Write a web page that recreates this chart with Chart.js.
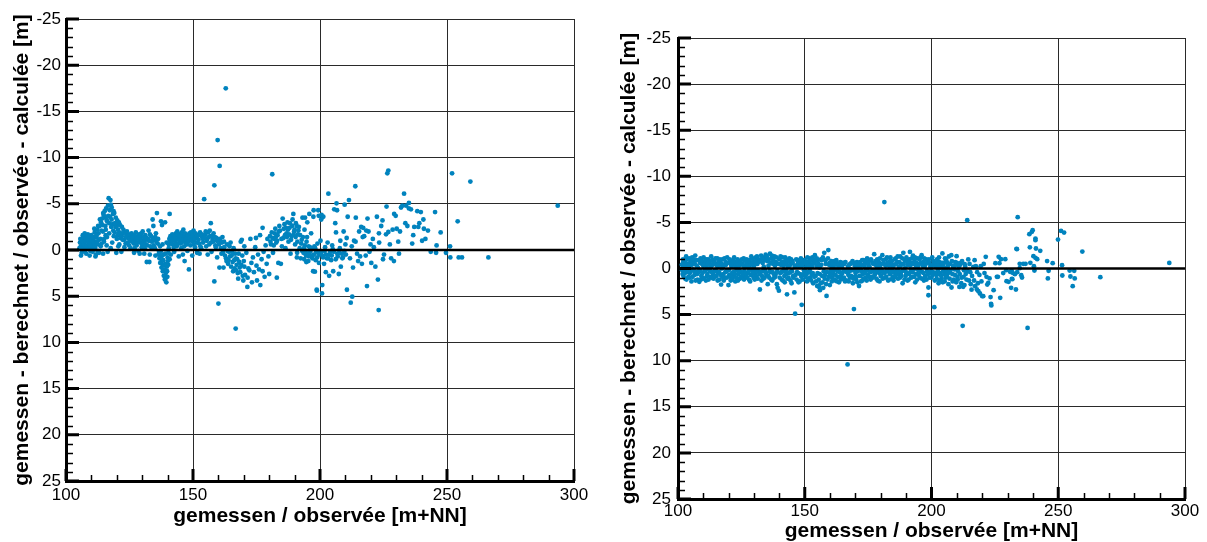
<!DOCTYPE html>
<html>
<head>
<meta charset="utf-8">
<script src="https://cdn.jsdelivr.net/npm/chart.js@4.4.1/dist/chart.umd.min.js"></script>
<style>
  html, body { margin: 0; padding: 0; background: #fff; }
  #wrap { position: relative; width: 1207px; height: 542px; overflow: hidden; }
  #leftChart { position: absolute; left: 0; top: 0; }
  #rightChart { position: absolute; left: 600px; top: 0; }
</style>
</head>
<body>
<div id="wrap">
  <canvas id="leftChart" width="600" height="542"></canvas>
  <canvas id="rightChart" width="607" height="542"></canvas>
</div>
<script>
// axis texts and ticks
const yTitle = 'gemessen - berechnet / observée - calculée [m]';
const xTitle = 'gemessen / observée [m+NN]';
const xTicks = [100, 150, 200, 250, 300];
const yTicks = [-25, -20, -15, -10, -5, 0, 5, 10, 15, 20, 25];
const xMinorStep = 10;
const yMinorStep = 1;

const leftObs = [
  [105.5,-0.8],[105.8,-0.4],[106.0,-1.1],[106.2,0.3],[106.5,-0.6],[106.8,-1.3],[107.0,-0.2],[107.2,-0.9],[107.5,-1.5],[107.8,-0.5],
  [108.0,0.4],[108.2,-1.0],[108.5,-0.3],[108.8,-1.4],[109.0,-0.7],[109.3,0.6],[109.5,-1.1],[109.8,-0.2],[110.0,-1.6],[110.3,-0.8],
  [110.5,0.2],[110.8,-1.3],[111.0,-0.5],[111.3,-1.9],[111.5,-0.9],[111.8,0.5],[112.0,-1.4],[112.3,-2.2],[112.5,-0.6],[112.8,-1.8],
  [113.0,0.3],[113.2,-2.6],[113.5,-1.2],[113.8,-3.0],[114.0,-0.7],[105.3,-0.2],[106.6,-1.6],[107.4,0.1],[108.6,-1.7],[109.6,0.1],
  [110.7,-0.4],[111.6,0.7],[112.4,0.1],[105.9,0.6],[107.9,-1.2],
  [105.65,-1.2],[106.05,-0.1],[106.35,-0.9],[106.95,-0.6],[107.35,-1.8],[107.65,-0.9],[108.15,-0.4],[108.45,-1.1],[108.95,-0.2],[109.15,-1.5],
  [109.45,-0.5],[109.95,-1.0],[110.15,0.0],[110.45,-1.4],[110.95,-0.9],[111.15,-2.3],[111.45,-0.3],[111.95,-1.6],[112.15,-0.9],[112.65,-2.6],
  [112.95,-1.1],[113.35,-3.3],[113.65,-0.4],[113.95,-2.1],[114.35,-2.7],[114.65,-4.0],[114.95,-0.9],[115.35,-3.6],[115.65,-2.2],[115.95,-3.3],
  [116.15,-1.4],[116.65,-3.7],[116.95,-2.9],[117.35,-3.6],[117.65,-4.9],[117.95,-3.3],[118.35,-2.8],[118.75,-4.2],[119.15,-1.9],[119.45,-2.5],
  [119.95,-2.6],[120.35,-1.6],[120.95,-1.9],[121.45,-1.3],[121.95,-1.5],[122.45,-1.8],[122.95,-1.1],[123.45,-0.7],[123.95,-1.6],[124.45,-1.3],
  [114.2,-3.4],[114.5,-2.0],[114.8,-3.8],[115.0,-1.2],[115.2,-4.2],[115.5,-2.6],[115.8,-4.5],[116.0,-0.5],[116.2,-3.1],[116.5,-4.8],
  [116.8,-5.6],[117.0,-1.8],[117.2,-4.3],[117.5,-5.4],[117.8,-2.5],[118.0,-4.6],[118.2,-0.8],[118.5,-3.9],[118.8,-1.5],[119.0,-4.0],
  [119.3,-2.9],[119.6,-3.5],[120.0,-1.2],[120.2,-3.2],[120.5,-2.2],[120.8,-3.0],[121.0,-0.6],[121.3,-2.7],[121.6,-1.8],[122.0,-2.5],
  [122.3,-1.1],[122.6,-2.2],[123.0,-0.3],[123.3,-1.9],[123.6,-1.4],[124.0,-2.0],[124.3,-0.8],[124.7,-1.6],[125.0,-1.2],[125.4,-0.2],
  [114.6,0.4],[116.4,0.2],[117.6,-0.2],[119.8,0.3],[115.6,-1.6],[118.6,-2.1],[121.8,0.2],[120.6,-0.4],
  [125.8,-1.8],[126.2,-0.9],[126.5,-1.5],[126.8,0.3],[127.2,-1.1],[127.5,-1.9],[127.8,-0.5],[128.2,-1.3],[128.5,0.1],[128.8,-1.7],
  [129.2,-0.8],[129.5,-1.4],[129.8,-0.3],[130.2,-2.0],[130.5,-1.0],[130.8,0.4],[131.2,-1.6],[131.5,-0.6],[131.8,1.3],[132.2,-1.2],
  [132.5,-2.1],[132.8,1.3],[133.2,-0.4],[133.5,-1.5],[133.8,-0.9],[134.1,-3.3],[134.4,-2.6],[134.7,-1.1],[135.0,-0.2],[135.4,-1.8],
  [135.8,-4.0],[136.1,-0.7],[136.4,0.5],[127.0,-0.2],[129.0,0.4],[131.0,-0.2],[133.0,0.5],[135.2,0.6],[137.4,-3.1],[137.8,-2.7],
  [139.0,-3.0],[140.8,-3.9],
  [124.85,-0.5],[125.25,-1.7],[125.65,-1.0],[126.05,-1.4],[126.65,-0.7],[127.05,-1.6],[127.65,-1.2],[128.05,-0.8],[128.65,-1.5],[129.05,-1.1],
  [129.65,-1.8],[130.05,-0.6],[130.65,-1.4],[131.05,-1.0],[131.65,-1.3],[132.05,-0.5],[132.65,-1.0],[133.05,-1.7],[133.65,-0.3],[134.05,-1.3],
  [134.55,-0.5],[135.15,-1.4],[135.55,-0.9],[136.25,-1.2],[136.65,0.2],[137.05,-0.4],[137.45,0.7],[137.75,1.2],[138.05,1.6],[138.45,0.5],
  [138.8,2.1],[139.2,1.5],[139.4,3.0],[139.8,2.3],[140.0,0.8],[140.25,1.6],[140.45,-0.2],[140.7,-1.2],[141.1,-1.5],[141.45,-0.9],
  [136.8,0.9],[137.1,1.4],[137.3,0.2],[137.6,1.9],[137.9,0.6],[138.1,2.3],[138.3,1.1],[138.5,2.8],[138.7,1.6],[138.9,3.2],
  [139.1,0.4],[139.3,2.5],[139.5,3.5],[139.7,1.8],[139.9,2.9],[140.1,1.2],[140.3,0.3],[140.5,-0.6],[140.8,1.0],[141.0,-1.0],
  [138.0,-0.6],[139.6,-0.8],[141.3,0.5],
  [141.6,-1.3],[142.0,-0.6],[142.3,-1.6],[142.6,0.2],[143.0,-1.1],[143.3,-1.8],[143.6,-0.4],[144.0,-1.4],[144.4,0.7],[144.7,-0.9],
  [145.0,-1.7],[145.4,-0.2],[145.7,-1.3],[146.0,0.5],[146.4,-1.6],[146.7,1.2],[147.0,-0.8],[147.4,-1.5],[147.8,0.1],[148.1,-1.2],
  [148.4,2.1],[148.6,-1.8],[149.0,-0.5],[149.3,-1.4],[149.7,0.6],[150.0,-1.0],[150.4,-1.7],[150.8,-0.3],[151.2,-1.3],[151.6,0.3],
  [143.8,-2.0],[146.2,-2.2],[150.2,-2.1],
  [141.85,-1.7],[142.15,-1.1],[142.45,-0.3],[142.85,-1.4],[143.15,-0.8],[143.45,-1.2],[143.9,-0.6],[144.2,-1.7],[144.55,-1.1],[144.85,-1.5],
  [145.2,-0.7],[145.55,-1.9],[145.85,-0.9],[146.25,-1.1],[146.55,-0.4],[146.85,-1.8],[147.2,-1.2],[147.6,-0.6],[147.95,-1.6],[148.25,-0.9],
  [148.8,-1.3],[149.15,-1.9],[149.5,-1.0],[149.85,-1.5],[150.2,-0.6],[150.6,-1.2],[151.0,-1.8],[151.4,-0.8],[151.8,-1.5],[152.2,-1.1],
  [152.0,-1.6],[152.4,-0.7],[152.8,-1.9],[153.2,-0.2],[153.6,-1.4],[154.0,-0.8],[154.4,-5.5],[154.8,-1.7],[155.2,-0.4],[155.6,-1.2],
  [156.0,-1.9],[156.4,-0.6],[156.8,-1.5],[157.0,-2.9],[157.3,0.2],[157.7,-1.1],[158.1,-1.8],[158.4,-7.0],[158.4,3.4],[158.8,-0.5],
  [159.2,-1.3],[159.7,-11.9],[160.0,5.8],[160.4,1.9],[160.5,-9.1],[160.8,-0.9],[161.2,0.4],[161.6,-1.4],[162.0,1.9],[162.3,-0.3],
  [162.9,-17.5],[163.0,0.9],[163.4,-0.6],[163.8,1.5],[164.2,0.2],[164.8,-0.8],[155.8,0.5],[159.5,0.8],[152.6,0.4],[166.8,8.5],
  [152.9,-0.4],[153.4,-1.7],[153.9,-1.2],[154.6,-1.4],[155.0,-2.0],[155.4,-1.0],[156.2,-1.4],[156.6,-2.1],[157.1,-0.8],[157.5,-1.5],
  [157.9,-0.9],[158.6,-1.4],[159.0,-0.3],[159.4,-1.0],[160.2,-0.6],[160.6,-1.2],[161.0,-0.2],[161.4,-0.8],[161.8,0.3],[162.2,-0.9],
  [162.6,0.6],[163.2,1.2],[163.6,0.1],[164.0,1.1],[164.4,-0.4],[164.6,0.7],[165.0,1.8],[165.4,0.2],[165.8,2.3],[166.2,1.1],
  [166.6,0.4],[167.0,2.2],[167.4,1.0],[167.8,3.1],[168.2,1.3],[168.6,2.4],[169.0,1.6],[169.4,0.6],[169.8,3.3],[170.2,1.8],
  [165.2,0.6],[165.6,1.3],[166.0,-0.2],[166.4,2.0],[166.8,0.9],[167.2,1.6],[167.6,2.5],[168.0,0.4],[168.4,1.9],[168.8,-0.9],
  [169.2,-1.1],[169.6,2.8],[170.0,1.2],[170.5,2.7],[171.0,0.3],[171.4,4.0],[171.5,3.0],[171.8,2.0],[172.2,2.2],[172.6,-1.2],
  [173.0,1.4],[173.2,3.5],[173.6,0.8],[174.0,2.4],[174.5,-0.3],[175.0,1.7],[175.2,3.3],[175.6,0.5],[176.0,2.1],[176.4,-1.6],
  [176.5,3.8],[177.0,1.0],[177.4,2.3],[177.4,-2.4],[177.8,0.2],[178.2,2.9],[178.6,-0.5],[179.0,1.5],[179.3,-1.2],[179.7,0.7],
  [170.2,-0.4],[174.8,-1.3],
  [180.0,2.6],[180.3,-1.5],[180.7,-0.6],[181.0,-1.9],[181.2,-8.2],[181.5,0.3],[182.0,-1.2],[182.4,-2.3],[182.8,-0.8],[183.0,3.0],
  [183.3,-1.6],[183.6,1.4],[184.0,-2.6],[184.3,-2.1],[184.6,1.5],[185.0,-0.4],[185.3,-3.4],[185.6,-1.3],[186.0,-2.8],[186.4,-0.2],
  [186.8,-1.8],[187.2,-3.0],[187.6,-0.9],[188.0,-2.4],[188.4,0.4],[188.8,-1.5],[189.2,-3.3],[189.5,-3.9],[189.8,-2.0],[190.2,-0.6],
  [190.5,-2.9],[190.9,0.8],[191.3,-1.7],[191.7,-2.5],[192.0,-0.2],[192.4,0.9],[192.8,-1.1],[193.1,-3.5],[193.5,0.3],[193.9,-2.2],
  [194.1,-3.5],[194.5,0.6],[194.9,-1.4],[195.0,-3.0],[195.4,1.2],[195.8,-3.9],[196.2,0.2],[196.5,-1.8],[196.9,0.7],[197.3,2.3],
  [197.4,-3.6],[197.5,-4.3],[197.8,-0.4],[198.0,2.35],[198.3,1.1],[198.7,4.3],[198.8,4.4],[199.0,-0.7],[199.3,-4.3],[199.5,-3.7],
  [199.8,0.5],[193.0,0.1],[194.0,-0.5],[195.2,0.4],[196.0,-0.3],[197.0,0.9],[198.5,0.2],[199.6,1.4],[191.0,0.3],[195.6,0.7],
  [194.6,1.3],[193.8,1.0],
  [180.5,-0.9],[181.3,-1.3],[181.8,-0.5],[182.2,-1.8],[182.6,-1.4],[183.1,-1.0],[183.8,-2.0],[184.8,-1.2],[185.8,-2.3],[186.2,-1.6],
  [186.6,-2.4],[187.0,-1.4],[187.4,-2.2],[187.8,-1.7],[188.2,-2.9],[188.6,-1.1],[189.0,-2.6],[189.6,-1.7],[190.0,-2.2],[190.4,-1.4],
  [190.8,-2.6],[191.1,-0.9],[191.5,-2.1],[192.2,-1.6],[192.6,-0.7],[193.3,-1.4],[193.7,-0.2],[194.3,0.2],[194.7,-0.9],[195.5,-0.4],
  [196.3,0.6],[196.8,-0.2],[197.6,0.5],[198.1,-0.2],[198.9,0.8],[199.2,0.3],
  [200.2,-1.0],[200.5,-3.3],[200.6,-3.8],[200.8,4.7],[200.9,3.8],[201.0,0.6],[201.3,-3.6],[201.6,1.5],[202.0,-0.3],[202.3,2.4],
  [202.7,0.9],[203.0,-0.8],[203.3,-6.1],[203.6,2.8],[204.0,0.2],[204.4,1.1],[204.8,-0.5],[205.2,2.3],[205.6,-4.4],[206.0,-2.9],
  [206.3,-1.9],[206.5,-5.05],[206.7,-4.3],[207.0,0.7],[207.4,2.6],[207.8,-0.2],[208.2,1.8],[208.6,0.4],[209.3,-2.0],[209.7,-4.9],
  [210.0,-0.6],[210.5,-1.3],[210.6,4.3],[210.9,-3.6],[201.8,0.1],[203.8,0.5],[205.0,-0.1],[206.8,0.4],[208.0,-1.0],[209.0,0.8],
  [200.4,0.3],[201.2,0.8],[202.4,0.5],[203.2,0.9],[204.6,0.6],[205.4,0.2],[206.2,1.0],[207.6,0.3],[208.8,0.9],[209.6,0.1],[210.2,0.5],
  [211.4,-5.4],[211.8,0.9],[212.1,5.7],[212.5,-0.4],[212.7,5.05],[213.0,1.9],[213.4,-1.0],[213.9,-6.9],[214.0,-0.9],[214.1,-3.5],
  [214.6,0.4],[215.0,1.2],[215.4,-2.0],[216.2,-2.5],[216.5,1.5],[216.8,-1.4],[217.0,-2.4],[217.4,-1.5],[218.0,0.6],[218.2,-2.1],
  [218.5,3.9],[218.7,-3.4],[219.1,-2.0],[219.5,0.2],[220.2,1.4],[220.8,-1.2],[221.2,-0.3],[221.8,1.8],[222.4,-3.6],[222.8,3.2],
  [223.1,6.5],[223.2,-1.8],[223.3,-0.8],[224.1,-2.6],[224.6,-3.2],[225.2,0.5],[226.0,-1.7],[226.2,-4.7],[226.5,-8.3],[226.9,-8.6],
  [226.9,-1.95],[227.5,-0.6],[228.0,0.9],[228.6,-2.2],[229.1,1.2],[229.2,-3.9],[229.8,-3.7],[215.8,0.7],[219.9,-0.6],[224.8,1.0],
  [230.2,-2.3],[230.8,-0.9],[231.1,0.4],[231.5,-2.0],[231.9,-4.6],[232.4,-4.8],[233.1,-6.1],[233.6,-2.9],[233.9,-4.8],[234.4,-2.6],
  [235.0,-5.1],[235.0,-4.5],[235.8,-4.4],[236.3,-0.7],[236.7,-1.6],[237.1,-2.5],[238.3,-4.2],[238.7,-2.5],[239.1,-2.9],[239.7,-4.1],
  [240.2,-1.0],[240.7,-3.3],[240.9,-2.3],[241.5,-1.2],[242.5,-2.1],[243.6,0.2],[245.3,-4.1],[245.7,0.3],[245.9,-0.5],[247.5,-1.9],
  [249.6,0.3],[251.2,-0.4],[251.3,0.8],[252.0,-8.3],[254.2,-3.1],[254.6,0.8],[255.9,0.8],[259.2,-7.4],[266.3,0.8],[293.6,-4.8]
];

// right panel
const rightObs = [
  [101.5,-0.4],[101.8,0.6],[102.0,-1.0],[102.3,0.2],[102.6,-0.7],[102.9,1.1],[103.2,-1.3],[103.5,0.3],[103.8,-0.2],[104.1,0.9],
  [104.4,-1.1],[104.7,0.5],[105.0,-0.6],[105.3,1.4],[105.6,-1.2],[105.9,0.1],[106.2,-0.8],[106.5,0.7],[106.8,-1.4],[107.1,0.4],
  [107.4,-0.3],[107.7,1.2],[108.0,-0.9],[108.4,1.45],[108.6,0.2],[108.9,-1.1],[109.2,0.8],[109.5,-0.5],[109.8,1.0],[110.1,-1.2],
  [110.4,0.3],[110.7,-0.7],[111.0,1.3],[111.3,-0.2],[111.6,0.6],[111.9,-1.0],[112.2,0.1],[112.5,-0.6],[112.8,0.9],[113.1,-1.3],
  [113.4,0.4],[113.7,-0.4],[114.0,1.1],[114.3,-0.9],[114.6,0.2],[114.9,-0.5],[115.2,0.8],[115.5,-1.1],[115.8,0.5],[116.1,-0.3],
  [116.4,1.2],[116.7,-0.8],[117.0,1.74],[117.3,0.0],[117.6,-1.0],[117.9,0.6],[118.2,-0.4],[118.5,1.0],[118.8,-0.7],[119.1,0.3],
  [119.4,-1.2],[119.9,1.8],[120.2,0.7],[120.5,-0.6],[120.8,1.3],[121.1,-0.2],[121.4,0.5],[121.7,-0.9],[122.0,0.9],[122.3,-0.4],
  [122.6,1.4],[122.9,-0.7],[123.2,0.2],[123.5,-1.0],[123.8,0.6],[124.1,-0.3],[124.4,1.1],[124.7,-0.8],[125.0,0.4],[125.3,-0.5],
  [125.6,1.0],[125.9,-1.1],[126.2,0.3],[126.5,-0.2],[126.8,0.8],[127.1,-1.0],[127.4,0.5],[127.7,-0.6],[128.0,1.2],[128.3,-0.3],
  [128.6,0.7],[128.9,-1.3],[129.2,0.1],[129.5,-0.7],[129.8,1.0],[130.1,-0.4],[130.4,0.6],[130.7,-1.2],[131.0,0.9],[131.3,-0.5],
  [131.6,0.3],[131.9,-1.0],[132.3,2.28],[132.5,0.4],[132.8,-1.4],[133.1,0.8],[133.4,-0.6],[133.7,1.1],[134.0,-1.2],[134.3,0.2],
  [134.6,-1.5],[134.9,0.7],[135.2,-0.8],[135.4,1.7],[135.7,-0.3],[136.0,1.0],[136.3,-1.6],[136.6,0.4],[136.9,-1.1],[137.2,1.3],
  [137.5,-0.5],[137.8,0.6],[138.1,-1.3],[138.4,0.9],[138.7,-0.7],[139.0,1.7],[139.3,2.1],[139.8,2.4],[140.0,-1.0],[140.3,0.5],
  [140.6,-0.4],[140.9,1.2],[141.2,-1.2],[141.5,0.3],[141.8,-0.6],[142.1,1.5],[142.4,-0.9],[142.7,0.6],[143.0,2.8],[143.3,-0.2],
  [143.6,1.0],[143.9,-1.1],[144.2,0.4],[144.5,-0.5],[144.8,1.6],[145.1,-0.8],[145.4,0.8],[145.9,2.6],[146.2,4.9],[146.5,-0.3],
  [146.8,1.2],[147.1,-0.9],[147.4,0.5],[147.7,-0.4],[148.0,1.4],[148.3,-0.7],[148.8,3.94],[149.1,0.7],[149.4,-0.6],[149.7,0.2],
  [101.65,0.2],[101.95,-0.6],[102.15,0.8],[102.45,-0.3],[102.75,0.5],[103.05,-0.9],[103.35,1.2],[103.65,-0.5],[103.95,0.4],[104.25,-0.2],
  [104.55,1.0],[104.85,-0.8],[105.15,0.2],[105.45,-0.4],[105.75,0.9],[106.05,-1.0],[106.35,0.3],[106.65,-0.5],[106.95,1.3],[107.25,-0.9],
  [107.55,0.6],[107.85,-0.1],[108.15,0.4],[108.75,-0.6],[109.05,1.2],[109.35,-0.9],[109.65,0.5],[109.95,-0.3],[110.25,1.1],[110.55,-0.4],
  [110.85,0.2],[111.15,-1.0],[111.45,0.8],[111.75,-0.5],[112.05,1.2],[112.35,-0.8],[112.65,0.3],[112.95,-0.2],[113.25,1.0],[113.55,-0.9],
  [113.85,0.6],[114.15,-0.6],[114.45,0.9],[114.75,-1.1],[115.05,0.3],[115.35,-0.3],[115.65,1.3],[115.95,-0.7],[116.25,0.4],[116.55,-1.0],
  [116.85,0.7],[117.15,-0.5],[117.45,0.9],[117.75,-0.2],[118.05,1.3],[118.35,-1.1],[118.65,0.4],[118.95,-0.4],[119.25,1.0],[119.55,-0.6],
  [120.05,0.2],[120.35,-1.0],[120.65,0.9],[120.95,-0.4],[121.25,1.2],[121.55,-0.7],[121.85,0.4],[122.15,-1.2],[122.45,0.6],[122.75,-0.1],
  [123.05,1.0],[123.35,-0.5],[123.65,1.3],[123.95,-0.8],[124.25,0.3],[124.55,-0.6],[124.85,0.9],[125.15,-1.0],[125.45,0.6],[125.75,-0.3],
  [126.05,1.2],[126.35,-0.9],[126.65,0.5],[126.95,-0.6],[127.25,1.0],[127.55,-0.2],[127.85,0.3],[128.15,-0.9],[128.45,1.4],[128.75,-0.5],
  [129.05,0.7],[129.35,-1.1],[129.65,0.4],[129.95,-0.2],[130.25,1.2],[130.55,-0.8],[130.85,0.2],[131.15,-1.3],[131.45,1.1],[131.75,-0.7],
  [132.05,0.6],[132.65,-0.8],[132.95,1.3],[133.25,-1.1],[133.55,0.3],[133.85,-0.2],[134.15,1.0],[134.45,-0.9],[134.75,0.5],[135.05,-1.3],
  [135.55,0.8],[135.85,-1.0],[136.15,0.3],[136.45,-0.6],[136.75,1.2],[137.05,-1.4],[137.35,0.4],[137.65,-0.9],[137.95,1.0],[138.25,-0.3],
  [138.55,0.6],[138.85,-1.2],[139.15,0.3],[139.55,-0.5],[140.15,1.0],[140.45,-1.3],[140.75,0.4],[141.05,-0.7],[141.35,1.3],[141.65,-0.3],
  [141.95,0.8],[142.25,-1.2],[142.55,0.2],[142.85,-0.5],[143.15,1.1],[143.45,-0.8],[143.75,0.5],[144.05,-0.3],[144.35,1.3],[144.65,-1.0],
  [144.95,0.3],[145.25,-0.6],[145.55,1.0],[146.05,-0.2],[146.35,0.7],[146.65,-1.0],[146.95,0.4],[147.25,-0.5],[147.55,1.5],[147.85,-0.2],
  [148.15,0.6],[148.45,-1.1],[148.65,0.9],[148.95,-0.3],[149.25,1.2],[149.55,-0.9],[149.85,0.5],
  [150.0,-0.9],[150.3,0.9],[150.6,-0.2],[150.9,1.4],[151.2,-0.7],[151.5,0.4],[151.8,-1.1],[152.1,1.0],[152.4,-0.4],[152.7,0.6],
  [153.0,-1.2],[153.3,1.6],[153.6,-0.6],[154.0,-1.45],[154.3,0.8],[154.6,-0.3],[154.9,1.9],[155.2,-0.9],[155.5,1.2],[155.8,-0.1],
  [156.0,2.35],[156.4,-1.0],[156.7,-0.9],[157.0,1.5],[157.3,2.1],[157.7,-1.7],[158.0,0.7],[158.3,-0.5],[158.6,2.97],[159.0,1.2],
  [159.3,-2.0],[159.6,-0.4],[159.9,1.8],[160.2,0.3],[160.5,-0.8],[160.8,1.0],[161.1,-0.2],[161.4,0.6],[161.7,-0.8],[162.0,1.3],
  [162.3,0.1],[162.6,-0.6],[162.9,0.9],[163.2,-0.3],[163.5,1.5],[163.8,0.4],[164.1,-0.7],[164.4,0.8],[164.7,-0.1],[165.0,1.1],
  [165.3,0.3],[165.6,-0.5],[165.9,1.4],[166.2,0.2],[166.9,10.4],[167.2,0.7],[167.5,-0.4],[167.8,1.0],[168.1,0.1],[168.4,-0.6],
  [168.7,0.9],[169.0,1.6],[169.4,4.4],[169.7,-0.3],[170.0,0.5],[170.3,1.2],[170.6,-0.7],[170.9,0.3],[171.4,1.9],[171.7,-0.2],
  [172.0,0.8],[172.5,-0.36],[172.8,1.3],[173.1,-0.9],[173.4,0.4],[173.7,-0.5],[174.0,1.0],[174.3,0.1],[174.6,-1.1],[174.9,0.7],
  [175.2,-0.3],[175.7,-0.9],[176.0,1.2],[176.4,0.9],[176.7,-0.6],[177.0,0.2],[177.4,-1.55],[177.7,0.6],[178.0,-0.4],[178.3,1.1],
  [178.6,-1.0],[178.9,0.3],[179.2,-0.7],[179.5,1.4],[179.8,-0.1],
  [150.15,0.3],[150.45,-0.6],[150.75,0.6],[151.05,-1.2],[151.35,1.1],[151.65,-0.3],[151.95,0.2],[152.25,-0.8],[152.55,1.3],[152.85,-0.2],
  [153.15,0.5],[153.45,-1.0],[153.75,0.9],[154.15,-0.8],[154.45,1.4],[154.75,-1.1],[155.05,0.5],[155.35,-0.5],[155.65,2.0],[155.95,0.6],
  [156.25,1.6],[156.55,-0.4],[156.85,0.8],[157.15,-1.2],[157.5,0.3],[157.85,1.1],[158.15,-0.9],[158.45,1.7],[158.8,0.4],[159.15,-1.1],
  [159.45,0.9],[159.75,-0.6],[160.05,0.7],[160.35,-0.3],[160.65,1.4],[160.95,-0.5],[161.25,0.3],[161.55,1.2],[161.85,-0.4],[162.15,0.7],
  [162.45,-0.9],[162.75,1.4],[163.05,0.3],[163.35,-0.5],[163.65,0.9],[163.95,-0.1],[164.25,1.2],[164.55,-0.3],[164.85,0.5],[165.15,-0.6],
  [165.45,1.0],[165.75,0.2],[166.05,-0.7],[166.35,1.3],[166.65,0.4],[167.05,-0.2],[167.35,1.4],[167.65,0.3],[167.95,-0.5],[168.25,0.8],
  [168.55,0.2],[168.85,-0.8],[169.15,1.1],[169.55,0.2],[169.85,-0.6],[170.15,0.9],[170.45,-0.2],[170.75,1.5],[171.05,0.1],[171.25,-0.5],
  [171.55,0.8],[171.85,-0.7],[172.15,1.4],[172.35,0.3],[172.65,-0.9],[172.95,0.6],[173.25,1.1],[173.55,-0.2],[173.85,0.5],[174.15,-0.8],
  [174.45,1.3],[174.75,0.2],[175.05,-0.6],[175.35,0.9],[175.55,-0.2],[175.85,0.4],[176.15,-1.0],[176.55,0.3],[176.85,1.0],[177.15,-0.5],
  [177.55,0.7],[177.85,-0.8],[178.15,0.3],[178.45,-0.2],[178.75,1.3],[179.05,-0.4],[179.35,0.5],[179.65,-1.1],[179.95,0.8],
  [180.2,0.8],[180.6,-1.45],[180.9,0.4],[181.2,-0.5],[181.4,-7.2],
  [181.7,1.0],[182.0,-1.0],[182.3,0.2],[182.6,-0.6],[182.9,1.3],[183.2,-0.3],[183.5,0.6],[183.8,-1.2],[184.1,0.1],[184.4,-0.8],
  [184.7,0.9],[185.0,1.3],[185.3,-0.4],[185.6,0.5],[185.9,-1.1],[186.2,0.3],[186.5,-0.7],[186.8,1.1],[187.1,-0.2],[187.4,0.7],
  [187.7,-1.3],[188.0,0.4],[188.3,-0.5],[188.6,1.6],[188.9,-1.7],[189.2,0.2],[189.5,-0.9],[189.8,0.8],[190.1,-1.2],[190.4,0.5],
  [190.7,-0.4],[191.0,1.2],[191.3,-1.0],[191.5,-1.8],[191.8,0.3],[192.1,-0.6],[192.4,0.9],[192.7,-1.4],[193.0,0.1],[193.3,-0.8],
  [193.6,1.5],[193.9,-0.3],[194.2,0.6],[194.5,-1.1],[194.8,0.2],[195.1,-0.5],[195.4,1.0],[195.7,-1.2],[196.1,-1.45],[196.4,0.4],
  [196.7,-0.7],[197.0,1.3],[197.3,-0.2],[197.6,0.8],[197.9,-1.0],[198.2,0.3],[198.8,2.06],[198.8,2.9],[199.1,-0.6],[199.4,0.5],
  [199.7,-0.3],
  [180.05,-0.5],[180.35,0.2],[180.75,1.1],[181.05,-0.9],[181.55,0.5],[181.85,-0.3],[182.15,0.9],[182.45,-1.2],[182.75,0.3],[183.05,-0.6],
  [183.35,1.2],[183.65,-0.8],[183.95,0.5],[184.25,-0.4],[184.55,1.1],[184.85,-0.1],[185.15,0.4],[185.45,-1.0],[185.75,0.9],[186.05,-0.5],
  [186.35,0.6],[186.65,-1.3],[186.95,0.3],[187.25,-0.7],[187.55,1.0],[187.85,-0.3],[188.15,0.8],[188.45,-1.1],[188.75,0.2],[189.05,-0.5],
  [189.35,1.2],[189.65,-0.1],[189.95,0.4],[190.25,-0.8],[190.55,1.3],[190.85,-0.6],[191.15,0.6],[191.65,-0.3],[191.95,1.0],[192.25,-1.1],
  [192.55,0.4],[192.85,-0.5],[193.15,0.9],[193.45,-1.2],[193.75,0.6],[194.05,-0.6],[194.35,1.2],[194.65,-0.2],[194.95,0.7],[195.25,-1.0],
  [195.55,0.3],[195.85,-0.6],[196.25,1.1],[196.55,-0.3],[196.85,0.5],[197.15,-1.1],[197.45,0.9],[197.75,-0.5],[198.05,1.2],[198.35,-0.8],
  [198.6,0.6],[199.0,-1.0],[199.25,1.0],[199.55,-0.2],[199.85,0.3],
  [200.0,1.0],[200.3,-1.2],[200.6,0.4],[200.9,-0.5],[201.1,4.2],[201.3,1.3],[201.6,-0.2],[201.9,0.7],[202.2,-1.0],[202.5,0.2],
  [202.8,1.6],[203.1,-0.7],[203.4,0.5],[203.7,-0.3],[204.0,1.1],[204.3,-1.63],[204.6,0.3],[204.9,-0.6],[205.2,1.4],[205.5,0.0],
  [205.8,-0.9],[206.1,0.8],[206.4,-0.2],[206.7,1.7],[207.0,0.4],[207.3,-0.5],[207.8,-1.45],[207.9,2.06],[208.2,0.6],[208.5,-0.3],
  [208.8,1.2],[209.1,0.1],[209.4,-0.7],[209.9,-1.34],[210.2,0.9],[210.5,0.3],[211.0,2.0],[211.3,-0.4],[211.6,-0.61],[211.9,1.0],
  [200.15,-0.3],[200.45,0.7],[200.75,-0.8],[201.45,0.5],[201.75,-0.6],[202.05,1.1],[202.35,-0.3],[202.65,0.6],[202.95,-1.2],[203.25,1.3],
  [203.55,-0.1],[203.85,0.8],[204.15,-0.6],[204.45,1.5],[204.75,-0.2],[205.05,0.6],[205.35,-1.1],[205.65,1.0],[205.95,0.3],[206.25,-0.6],
  [206.55,0.5],[206.85,-1.3],[207.15,1.1],[207.45,0.2],[208.05,-0.8],[208.35,1.4],[208.65,-0.1],[209.25,0.7],[209.55,-0.4],[209.75,1.5],
  [210.05,-0.6],[210.35,1.2],[210.75,-0.2],[211.15,0.6],[211.75,1.6],[212.05,-0.8],[212.65,0.9],[213.3,-0.2],[213.8,1.2],[214.3,0.3],
  [215.0,-0.5],[215.5,1.7],[216.0,0.8],[216.8,1.3],[217.0,-0.9],[218.0,0.4],[218.3,1.6],[219.7,1.4],[220.6,-0.5],[221.7,0.9],
  [212.3,6.22],[212.5,1.99],[212.8,0.2],[213.0,1.8],[213.1,-0.47],[213.5,0.6],[214.1,-5.24],[214.5,-0.98],[214.8,1.3],[215.3,0.4],
  [215.8,2.3],[216.5,-0.18],[217.2,1.92],[217.5,-0.25],[217.9,2.28],[218.5,2.46],[218.9,0.7],[219.1,2.71],[219.4,-0.25],[220.0,3.0],
  [220.4,3.0],[220.9,0.5],[221.4,-1.27],[222.0,1.74],[222.4,1.56],[222.9,1.08],[223.3,3.1],[223.5,3.83],[223.6,4.0],[224.5,2.35],
  [225.2,-0.58],[225.8,0.9],[226.2,0.9],[226.5,-1.27],[226.8,-0.58],[227.1,3.18],[227.4,-1.01],[228.3,0.5],[229.1,-1.01],[229.5,0.18],
  [229.6,1.37],[230.4,1.45],[231.0,0.36],[231.4,2.1],[231.6,0.22],[231.7,1.12],[231.9,1.16],[232.0,0.47],[232.9,0.62],[233.3,2.28],
  [233.5,-2.13],[233.7,-2.1],[233.8,0.4],[234.0,-5.57],[234.8,-0.51],[234.8,-0.04],[235.4,0.72],[235.7,0.98],[236.2,-0.51],[237.1,-0.51],
  [237.9,6.44],[238.6,-3.72],[238.8,-2.3],[239.0,-0.62],[239.6,-3.98],[239.9,-4.16],[240.2,-1.34],[240.4,-0.25],[240.6,0.22],[241.0,-3.25],
  [241.0,-3.07],[241.0,-1.16],[241.2,-2.17],[241.7,-1.01],[242.9,-1.92],[245.6,-0.8],[245.9,1.08],[246.2,0.25],[247.8,-0.58],[249.9,-3.14],
  [251.1,-4.08],[251.5,-0.36],[251.6,0.76],[252.3,-3.9],[254.5,0.22],[254.8,0.87],[255.7,1.92],[256.3,0.25],[256.5,1.08],[259.5,-1.84],
  [266.6,0.94],[293.8,-0.61]
];

const dotColor = 'rgb(0,131,190)';
const fontFamily = "'Liberation Sans', Arial, Helvetica, sans-serif";

// inward major/minor ticks and the heavy zero line, drawn on top of the dots
const innerTicks = {
  id: 'innerTicks',
  afterDatasetsDraw(chart) {
    const { ctx, chartArea: a, scales: { x, y } } = chart;
    ctx.save();
    ctx.strokeStyle = '#000';

    const y0 = y.getPixelForValue(0);
    ctx.lineWidth = 2.6;
    ctx.beginPath();
    ctx.moveTo(a.left, y0);
    ctx.lineTo(a.right, y0);
    ctx.stroke();

    // minor ticks
    ctx.lineWidth = 1.5;
    ctx.beginPath();
    for (let v = yTicks[0]; v <= yTicks[yTicks.length - 1]; v += yMinorStep) {
      if (yTicks.includes(v)) continue;
      const p = Math.round(y.getPixelForValue(v)) + 0.5;
      ctx.moveTo(a.left, p);
      ctx.lineTo(a.left + 7, p);
    }
    for (let v = xTicks[0]; v <= xTicks[xTicks.length - 1]; v += xMinorStep) {
      if (xTicks.includes(v)) continue;
      const p = Math.round(x.getPixelForValue(v)) + 0.5;
      ctx.moveTo(p, a.bottom);
      ctx.lineTo(p, a.bottom - 6);
    }
    ctx.stroke();

    // major ticks
    ctx.lineWidth = 3;
    ctx.beginPath();
    yTicks.forEach(v => {
      const p = y.getPixelForValue(v);
      ctx.moveTo(a.left, p);
      ctx.lineTo(a.left + 13, p);
    });
    xTicks.forEach(v => {
      const p = x.getPixelForValue(v);
      ctx.moveTo(p, a.bottom);
      ctx.lineTo(p, a.bottom - 12);
    });
    ctx.stroke();
    ctx.restore();
  }
};

function makeChart(id, points, geo) {
  const ctx = document.getElementById(id).getContext('2d');
  return new Chart(ctx, {
    type: 'scatter',
    data: {
      datasets: [{
        data: points.map(p => ({ x: p[0], y: p[1] })),
        backgroundColor: dotColor,
        borderWidth: 0,
        pointRadius: 2.4,
        pointHoverRadius: 2.4
      }]
    },
    options: {
      responsive: false,
      animation: false,
      events: [],
      layout: { padding: { top: geo.top, right: geo.right, bottom: 0, left: 0 } },
      plugins: { legend: { display: false }, tooltip: { enabled: false } },
      scales: {
        x: {
          type: 'linear',
          min: xTicks[0],
          max: xTicks[xTicks.length - 1],
          afterBuildTicks: s => { s.ticks = xTicks.map(v => ({ value: v })); },
          afterFit: s => { s.height = geo.xAxisH; },
          ticks: {
            autoSkip: false,
            maxRotation: 0,
            padding: geo.xPad,
            color: '#000',
            font: { family: fontFamily, size: 17 }
          },
          grid: { color: '#2a2a2a', lineWidth: 1, drawTicks: false },
          border: { display: true, color: '#000', width: 3 },
          title: {
            display: true,
            text: xTitle,
            color: '#000',
            font: { family: fontFamily, size: 21, weight: 'bold', lineHeight: 1 },
            padding: { top: 0, bottom: geo.xTitlePad }
          }
        },
        y: {
          type: 'linear',
          reverse: true,
          min: yTicks[0],
          max: yTicks[yTicks.length - 1],
          afterBuildTicks: s => { s.ticks = yTicks.map(v => ({ value: v })); },
          afterFit: s => { s.width = geo.yAxisW; },
          ticks: {
            autoSkip: false,
            padding: geo.yPad,
            color: '#000',
            font: { family: fontFamily, size: 17 }
          },
          grid: { color: '#2a2a2a', lineWidth: 1, drawTicks: false },
          border: { display: true, color: '#000', width: 3 },
          title: {
            display: true,
            text: yTitle,
            color: '#000',
            font: { family: fontFamily, size: 21, weight: 'bold', lineHeight: 1 },
            padding: { top: geo.yTitlePad, bottom: 0 }
          }
        }
      }
    },
    plugins: [innerTicks]
  });
}

makeChart('leftChart', leftObs, { top: 19, right: 26, xAxisH: 61, yAxisW: 66, xPad: 4, yPad: 5, xTitlePad: 15, yTitlePad: 12 });
makeChart('rightChart', rightObs, { top: 38, right: 22, xAxisH: 43, yAxisW: 78, xPad: 2, yPad: 7, xTitlePad: 0, yTitlePad: 19 });
</script>
</body>
</html>
